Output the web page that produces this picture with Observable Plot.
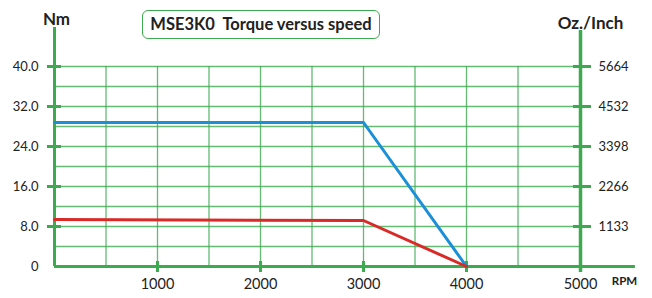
<!DOCTYPE html>
<html><head><meta charset="utf-8">
<script src="https://cdn.jsdelivr.net/npm/d3@7"></script>
<script src="https://cdn.jsdelivr.net/npm/@observablehq/plot@0.6"></script>
<style>
body{margin:0;background:#fff;}
#wrap{position:relative;width:652px;height:298px;font-family:Lato,"Open Sans",sans-serif;}
#title{position:absolute;left:142px;top:10px;width:238px;height:29px;border:1.5px solid #3daa4f;border-radius:6px;box-sizing:border-box;
 font:bold 16.5px Lato,sans-serif;color:#222;text-align:center;line-height:27px;white-space:pre;background:#fff;}
</style></head>
<body><div id="wrap"><div id="title">MSE3K0  Torque versus speed</div></div>
<script>
const rpm = [0, 3000, 4000];
const peakTorque = [28.8, 28.8, 0];
const contTorque = [9.4, 9.2, 0];
const nmTicks = [0, 8, 16, 24, 32, 40];
const ozTicks = [8, 16, 24, 32, 40];
const ozLabels = ["1133", "2266", "3398", "4532", "5664"];
const rpmTicks = [1000, 2000, 3000, 4000];
const rpmMax = 5000;
const gridYvals = [4, 8, 12, 16, 20, 24, 28, 32, 36, 40];
const gridXvals = [500, 1000, 1500, 2000, 2500, 3000, 3500, 4000, 4500];

const green = "#3daa4f";
const peak = rpm.map((r, i) => ({rpm: r, nm: peakTorque[i]}));
const cont = rpm.map((r, i) => ({rpm: r, nm: contTorque[i]}));

const chart = Plot.plot({
  width: 652, height: 298,
  marginLeft: 54, marginRight: 72, marginTop: 66, marginBottom: 32,
  style: {fontFamily: "Lato, sans-serif", background: "transparent", overflow: "visible"},
  x: {domain: [0, rpmMax], range: [54, 569]},
  y: {domain: [0, 40]},
  marks: [
    Plot.gridY(gridYvals, {stroke: green, strokeOpacity: 0.8, strokeWidth: 1.3}),
    Plot.gridX(gridXvals, {stroke: green, strokeOpacity: 0.8, strokeWidth: 1.3}),
    // axis lines
    Plot.ruleX([0], {y1: 0, y2: 47.8, stroke: green, strokeWidth: 3}),
    Plot.ruleX([rpmMax], {y1: -1.2, y2: 47.2, dx: 11, stroke: green, strokeWidth: 3.5}),
    Plot.ruleY([0], {x1: 0, x2: 5640, stroke: green, strokeWidth: 3}),
    // ticks
    Plot.axisY(nmTicks.slice(1), {anchor: "left", tickSize: 14, dx: 7, stroke: green, strokeWidth: 3, fill: "none", label: null}),
    Plot.axisY(ozTicks, {anchor: "right", tickSize: 18, dx: -8, stroke: green, strokeWidth: 3, fill: "none", label: null}),
    Plot.axisX(rpmTicks, {anchor: "bottom", tickSize: 11, dy: -5, stroke: green, strokeWidth: 3, fill: "none", label: null}),
    // tick labels
    Plot.axisY(nmTicks, {anchor: "left", tickSize: 0, tickPadding: 16, fontSize: 13, fill: "#222", label: null,
      tickFormat: d => d === 0 ? "0" : d.toFixed(1)}),
    Plot.axisY(ozTicks, {anchor: "right", tickSize: 0, tickPadding: 18, fontSize: 13, fill: "#222", label: null,
      tickFormat: d => ozLabels[ozTicks.indexOf(d)]}),
    Plot.axisX(rpmTicks, {anchor: "bottom", tickSize: 0, tickPadding: 12, fontSize: 14.5, fill: "#222", label: null,
      tickFormat: d => String(d)}),
    Plot.axisX([rpmMax], {anchor: "bottom", tickSize: 0, tickPadding: 12, dx: 11, fontSize: 14.5, fill: "#222", label: null,
      tickFormat: d => String(d)}),
    // data
    Plot.line(peak, {x: "rpm", y: "nm", stroke: "#1b8fd8", strokeWidth: 3}),
    Plot.line(cont, {x: "rpm", y: "nm", stroke: "#d92a27", strokeWidth: 3}),
    // unit labels
    Plot.text(["Nm"], {frameAnchor: "top-left", text: d => d, dx: 2, dy: -54, fontSize: 17, fontWeight: "bold", fill: "#222", textAnchor: "middle"}),
    Plot.text(["Oz./Inch"], {frameAnchor: "top-right", text: d => d, dx: 10, dy: -50, fontSize: 17, fontWeight: "bold", fill: "#222", textAnchor: "middle"}),
    Plot.text(["RPM"], {frameAnchor: "bottom-right", text: d => d, dx: 44, dy: 18, fontSize: 11.5, fontWeight: "bold", fill: "#222", textAnchor: "middle"})
  ]
});
document.getElementById("wrap").prepend(chart);
chart.style.position = "absolute";
chart.style.left = "0"; chart.style.top = "0";
</script>
</body></html>
